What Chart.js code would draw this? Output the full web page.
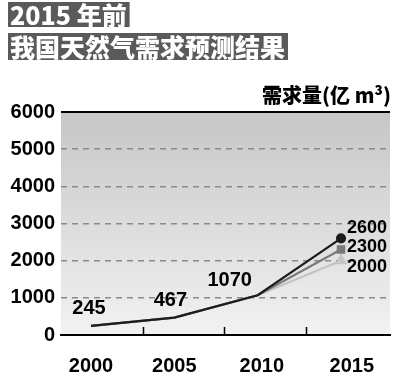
<!DOCTYPE html>
<html>
<head>
<meta charset="utf-8">
<script src="https://cdn.jsdelivr.net/npm/chart.js@4"></script>
<style>
  html, body { margin: 0; padding: 0; background: #fff; }
  #wrap { width: 400px; height: 377px; position: relative; }
</style>
</head>
<body>
<div id="wrap"><canvas id="gas"></canvas></div>
<script>
const years = ['2000', '2005', '2010', '2015'];
const yearValues = [2000, 2005, 2010, 2015];
const highCase = [245, 467, 1070, 2600];
const midCase = [245, 467, 1070, 2300];
const lowCase = [245, 467, 1070, 2000];
const yTicks = [0, 1000, 2000, 3000, 4000, 5000, 6000];
const titleLines = ['2015 年前', '我国天然气需求预测结果'];
const unitLabel = '需求量(亿 m³)';

const numFont = '"Liberation Sans", Arial, sans-serif';

// backdrop, header boxes, borders and value labels
const decor = {
  id: 'decor',
  beforeDraw(chart) {
    const { ctx, chartArea: a } = chart;
    const g = ctx.createLinearGradient(0, a.top, 0, a.bottom);
    g.addColorStop(0, '#c6c6c6');
    g.addColorStop(1, '#f2f2f2');
    ctx.save();
    ctx.fillStyle = g;
    ctx.fillRect(a.left, a.top, a.right - a.left, a.bottom - a.top);

    // header
    ctx.font = '900 25px "Noto Sans CJK SC", ' + numFont;
    ctx.textBaseline = 'middle';
    const rows = [{ y: 2, h: 25 }, { y: 33, h: 27 }];
    titleLines.forEach((t, i) => {
      const w = ctx.measureText(t).width;
      ctx.fillStyle = '#5a5a5a';
      ctx.fillRect(8, rows[i].y, w + 5, rows[i].h);
      ctx.fillStyle = '#fff';
      ctx.fillText(t, 10, rows[i].y + rows[i].h / 2 + 1);
    });

    ctx.font = '900 20px "Noto Sans CJK SC", ' + numFont;
    ctx.fillStyle = '#000';
    ctx.textAlign = 'right';
    ctx.fillText(unitLabel, 391, 95);
    ctx.restore();
  },
  afterDatasetsDraw(chart) {
    const { ctx, chartArea: a, scales } = chart;
    ctx.save();
    ctx.strokeStyle = '#000';
    ctx.lineWidth = 2;
    ctx.beginPath();
    ctx.moveTo(a.left, a.top);
    ctx.lineTo(a.right, a.top);
    ctx.stroke();

    ctx.lineWidth = 1.5;
    [2003.1, 2008, 2012.9].forEach(v => {
      const x = Math.round(scales.x.getPixelForValue(v)) + 0.5;
      ctx.beginPath();
      ctx.moveTo(x, a.bottom - 8);
      ctx.lineTo(x, a.bottom);
      ctx.stroke();
    });

    ctx.fillStyle = '#000';
    ctx.textBaseline = 'middle';
    ctx.font = 'bold 20px ' + numFont;
    ctx.textAlign = 'center';
    const pts = chart.getDatasetMeta(0).data;
    const shared = [[-2, -17], [-4, -17], [-28, -15]];
    shared.forEach((o, i) => {
      ctx.fillText(String(highCase[i]), pts[i].x + o[0], pts[i].y + o[1]);
    });

    ctx.font = 'bold 18px ' + numFont;
    ctx.textAlign = 'left';
    const ends = [[highCase, -10], [midCase, -2], [lowCase, 6]];
    ends.forEach((e, k) => {
      const p = chart.getDatasetMeta(k).data[3];
      ctx.fillText(String(e[0][3]), p.x + 6, p.y + e[1]);
    });
    ctx.restore();
  }
};

const lastOnly = r => ctx => (ctx.dataIndex === 3 ? r : 0);

new Chart(document.getElementById('gas'), {
  type: 'line',
  data: {
    datasets: [
      {
        data: highCase.map((v, i) => ({ x: yearValues[i], y: v })),
        borderColor: '#1c1c1c',
        backgroundColor: '#1c1c1c',
        borderWidth: 2.2,
        pointStyle: 'circle',
        pointRadius: lastOnly(4)
      },
      {
        data: midCase.map((v, i) => ({ x: yearValues[i], y: v })),
        borderColor: '#7a7a7a',
        backgroundColor: '#7a7a7a',
        borderWidth: 2.2,
        pointStyle: 'rect',
        pointRadius: lastOnly(4.5)
      },
      {
        data: lowCase.map((v, i) => ({ x: yearValues[i], y: v })),
        borderColor: '#c4c4c4',
        backgroundColor: '#c4c4c4',
        borderWidth: 2.2,
        pointStyle: 'triangle',
        pointRadius: lastOnly(5)
      }
    ]
  },
  options: {
    responsive: true,
    maintainAspectRatio: false,
    animation: false,
    layout: { padding: { top: 112, right: 10, left: 0, bottom: 0 } },
    plugins: { legend: { display: false }, tooltip: { enabled: false } },
    elements: { line: { tension: 0 }, point: { borderWidth: 0 } },
    scales: {
      x: {
        type: 'linear',
        min: 1998.2,
        max: 2017.94,
        afterBuildTicks: s => {
          s.ticks = [2000, 2005, 2010.25, 2015.65].map(v => ({ value: v }));
        },
        afterFit: s => { s.height = 42; },
        grid: { display: false },
        border: { display: true, color: '#000', width: 2 },
        ticks: {
          autoSkip: false,
          maxRotation: 0,
          padding: 11,
          color: '#000',
          font: { family: numFont, weight: 'bold', size: 20 },
          callback: (v, i) => years[i]
        }
      },
      y: {
        min: 0,
        max: 6000,
        afterBuildTicks: s => { s.ticks = yTicks.map(v => ({ value: v })); },
        afterFit: s => { s.width = 61; },
        border: { display: false, dash: [6, 5] },
        grid: {
          drawTicks: false,
          lineWidth: 1.5,
          color: c => (c.tick.value === 0 || c.tick.value === 6000 ? 'transparent' : '#8a8a8a')
        },
        ticks: {
          padding: 6,
          color: '#000',
          font: { family: numFont, weight: 'bold', size: 20 },
          callback: v => String(v)
        }
      }
    }
  },
  plugins: [decor]
});
</script>
</body>
</html>
